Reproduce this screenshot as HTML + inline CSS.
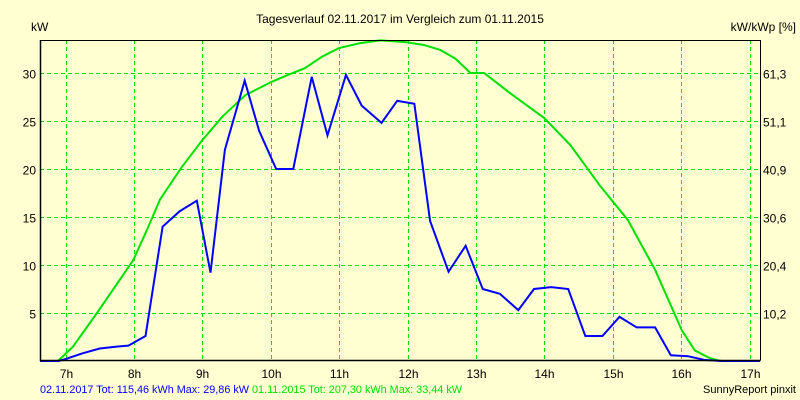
<!DOCTYPE html>
<html><head><meta charset="utf-8"><style>
body{margin:0;background:#ffffd2;}
svg{display:block;font-family:"Liberation Sans",Arial,sans-serif;}
</style></head><body>
<svg id="chart" width="800" height="400" viewBox="0 0 800 400">
<rect x="0" y="0" width="800" height="400" fill="#ffffd2"/>
<text x="400" y="23" text-anchor="middle" font-size="12" fill="#000">Tagesverlauf 02.11.2017 im Vergleich zum 01.11.2015</text>
<text x="31" y="31" font-size="12" fill="#000">kW</text>
<text x="796" y="31" text-anchor="end" font-size="12" fill="#000">kW/kWp [%]</text>
<g id="grid"></g><g id="series"></g><g id="axes"></g>
<text x="40" y="393" font-size="11" fill="#0000ff" textLength="209" lengthAdjust="spacingAndGlyphs">02.11.2017 Tot: 115,46 kWh Max: 29,86 kW</text>
<text x="252" y="393" font-size="11" fill="#00e000" textLength="210" lengthAdjust="spacingAndGlyphs">01.11.2015 Tot: 207,30 kWh Max: 33,44 kW</text>
<text x="796" y="393" text-anchor="end" font-size="11" fill="#000">SunnyReport pinxit</text>
</svg>
<script>
const hourTicks=[7,8,9,10,11,12,13,14,15,16,17];
const kwTicks=[5,10,15,20,25,30];
const pctLabels=["10,2","20,4","30,6","40,9","51,1","61,3"];
const blueHours=[6.63,6.9,7.0,7.25,7.5,7.75,7.92,8.17,8.42,8.67,8.92,9.12,9.33,9.62,9.83,10.08,10.33,10.6,10.83,11.1,11.33,11.62,11.85,12.1,12.33,12.6,12.85,13.1,13.35,13.62,13.85,14.1,14.35,14.6,14.85,15.1,15.35,15.62,15.85,16.1,16.35,16.6,17.15];
const blueKW=[0,0,0.2,0.8,1.3,1.5,1.6,2.6,14,15.6,16.7,9.2,22,29.2,24,20,20,29.6,23.5,29.8,26.6,24.8,27.1,26.8,14.6,9.3,12,7.5,7,5.3,7.5,7.7,7.5,2.6,2.6,4.6,3.5,3.5,0.6,0.5,0.1,0,0];
const greenHours=[6.63,6.89,7.11,7.46,7.99,8.2,8.38,8.7,9.0,9.3,9.63,9.99,10.25,10.5,10.75,11.0,11.3,11.6,11.99,12.25,12.48,12.7,12.92,13.12,13.5,14.0,14.38,14.81,15.22,15.62,16.01,16.2,16.42,16.57,17.15];
const greenKW=[0,0,1.5,5,10.5,13.8,16.8,20.2,23,25.5,27.7,29,29.8,30.5,31.7,32.6,33.1,33.4,33.2,32.9,32.4,31.5,30,30,27.9,25.3,22.5,18.3,14.7,9.5,3.2,1.1,0.3,0,0];
const L=40,R=760,T=40,B=360;
const xS=h=>65.5+(h-7)*68.4;
const yS=v=>361-9.6*v;
const NS="http://www.w3.org/2000/svg";
function mk(tag,attrs,parent,txt){const e=document.createElementNS(NS,tag);for(const k in attrs)e.setAttribute(k,attrs[k]);if(txt!==undefined)e.textContent=txt;parent.appendChild(e);return e;}
const grid=document.getElementById('grid'),ser=document.getElementById('series'),ax=document.getElementById('axes');
hourTicks.forEach(h=>{const x=Math.round(xS(h))+0.5;
const g=mk('line',{x1:x,x2:x,y1:T,y2:B,stroke:'#00e000','stroke-dasharray':'4,3'},grid);


const t=mk('text',{x:x,y:378,'text-anchor':'middle','font-size':12},ax,h+'h');

});
kwTicks.forEach((v,i)=>{const y=Math.round(yS(v))+0.5;
const g=mk('line',{x1:L,x2:R,y1:y,y2:y,stroke:'#00e000','stroke-dasharray':'4,3'},grid);


const t=mk('text',{x:36,y:y+5,'text-anchor':'end','font-size':12},ax,String(v));


const t2=mk('text',{x:763,y:y+5,'font-size':12},ax,pctLabels[i]);

});
const gp=mk('polyline',{points:greenHours.map((h,i)=>xS(h)+','+yS(greenKW[i])).join(' '),fill:'none',stroke:'#00e000','stroke-width':2,'stroke-linejoin':'round'},ser);


const bp=mk('polyline',{points:blueHours.map((h,i)=>xS(h)+','+yS(blueKW[i])).join(' '),fill:'none',stroke:'#0000ff','stroke-width':2},ser);


const fr=mk('polyline',{points:`${L+0.5},${T+0.5} ${R+0.5},${T+0.5} ${R+0.5},${B+0.5}`,fill:'none',stroke:'#000','stroke-width':1},ax);


const fl=mk('polyline',{points:`${L+0.5},${T} ${L+0.5},${B+0.5} ${R+0.5},${B+0.5}`,fill:'none',stroke:'#000','stroke-width':1.5},ax);


</script>
</body></html>
